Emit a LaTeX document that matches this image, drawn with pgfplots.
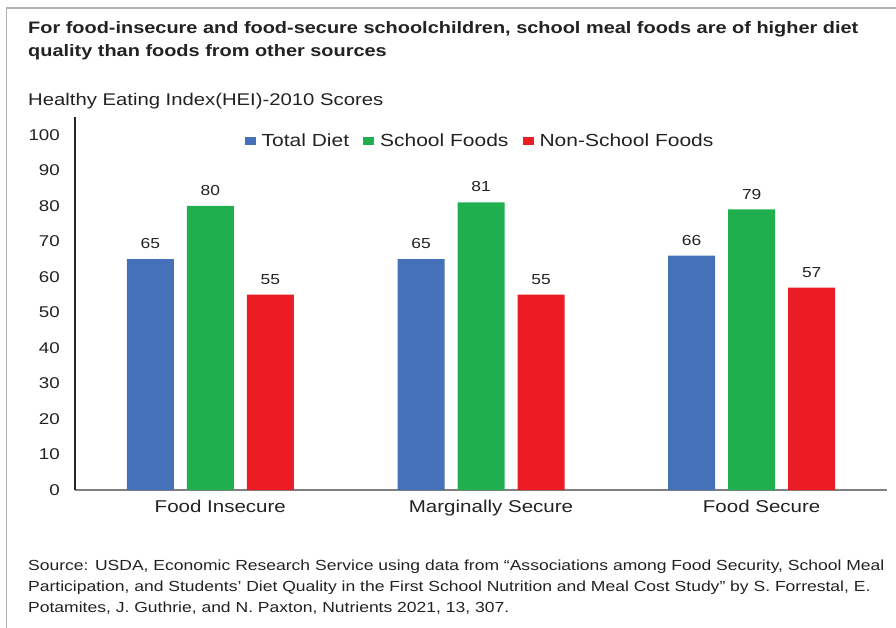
\documentclass[border=0pt]{standalone}
\usepackage{fontspec}
\setmainfont[FakeStretch=1.2]{Liberation Sans}
\usepackage{pgfplots}
\pgfplotsset{compat=1.18}
\definecolor{cblue}{HTML}{4571B9}
\definecolor{cgreen}{HTML}{1FAF4E}
\definecolor{cred}{HTML}{EC1C24}
\definecolor{txt}{HTML}{222222}
\begin{document}
\begin{tikzpicture}
\useasboundingbox (0,0) rectangle (896pt,-628pt);
\draw[color=gray!60, line width=1.5pt] (6.5pt,-628pt) -- (6.5pt,-8pt) -- (896pt,-8pt);
\node[anchor=base west, inner sep=0pt, font=\bfseries\fontsize{16.6}{20}\selectfont, text=txt] at (28pt,-34pt) {For food-insecure and food-secure schoolchildren, school meal foods are of higher diet};
\node[anchor=base west, inner sep=0pt, font=\bfseries\fontsize{16.6}{20}\selectfont, text=txt] at (28pt,-57pt) {quality than foods from other sources};
\node[anchor=base west, inner sep=0pt, font=\fontsize{16.9}{20}\selectfont, text=txt] at (28pt,-106pt) {Healthy Eating Index(HEI)-2010 Scores};
\node[anchor=base west, inner sep=0pt, font=\fontsize{14.6}{18}\selectfont, text=txt] at (28pt,-570pt) {Source: USDA, Economic Research Service using data from “Associations among Food Security, School Meal};
\node[anchor=base west, inner sep=0pt, font=\fontsize{14.6}{18}\selectfont, text=txt] at (28pt,-591pt) {Participation, and Students’ Diet Quality in the First School Nutrition and Meal Cost Study” by S. Forrestal, E.};
\node[anchor=base west, inner sep=0pt, font=\fontsize{14.6}{18}\selectfont, text=txt] at (28pt,-612pt) {Potamites, J. Guthrie, and N. Paxton, Nutrients 2021, 13, 307.};
\begin{axis}[
  at={(75pt,-490pt)}, anchor=south west, scale only axis,
  width=812pt, height=373pt,
  xmin=-0.5, xmax=2.5, ymin=0, ymax=105,
  axis x line*=bottom, axis y line*=left,
  axis line style={-},
  x axis line style={draw=gray, line width=1.8pt},
  y axis line style={draw=black!85, line width=1.2pt},
  major tick length=0pt,
  ytick={0,10,...,100},
  xtick={0,1,2},
  xticklabels={Food Insecure, Marginally Secure, Food Secure},
  yticklabel style={font=\fontsize{15.6}{16}\selectfont, text=txt, inner sep=0pt, xshift=-15pt},
  xticklabel style={font=\fontsize{17.1}{17.1}\selectfont, text=txt, inner sep=0pt, yshift=-10pt, xshift=10pt},
  /pgf/number format/assume math mode=true,
  ybar=13pt, bar width=47pt,
  nodes near coords,
  every node near coord/.append style={font=\fontsize{14.5}{15}\selectfont, text=txt, anchor=south, inner sep=0pt, yshift=10pt},
  legend style={at={(0.4988,0.936)}, anchor=center, draw=none, fill=none,
    font=\fontsize{17.5}{17.5}\selectfont, text=txt, legend columns=3,
    /tikz/every even column/.append style={column sep=12pt}},
  legend image code/.code={\fill[#1] (0pt,-4pt) rectangle (11pt,4pt); \path (15pt,0pt);},
]
\addplot[fill=cblue, draw=none] coordinates {(0,65) (1,65) (2,66)};
\addplot[fill=cgreen, draw=none] coordinates {(0,80) (1,81) (2,79)};
\addplot[fill=cred, draw=none] coordinates {(0,55) (1,55) (2,57)};
\legend{Total Diet, School Foods, Non-School Foods}
\end{axis}
\end{tikzpicture}
\end{document}
